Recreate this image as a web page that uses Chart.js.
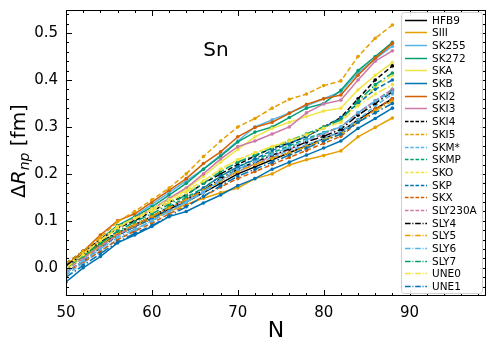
<!DOCTYPE html>
<html>
<head>
<meta charset="utf-8">
<script src="https://cdn.jsdelivr.net/npm/chart.js@4.4.0/dist/chart.umd.min.js"></script>
<style>
  html, body { margin: 0; padding: 0; background: #fff; }
  #wrap { width: 496px; height: 345px; }
</style>
</head>
<body>
<div id="wrap"><canvas id="snChart" width="496" height="345"></canvas></div>
<script>
// neutron number N
const neutrons = [50, 52, 54, 56, 58, 60, 62, 64, 66, 68, 70, 72, 74, 76, 78, 80, 82, 84, 86, 88];

// delta R_np (fm) per Skyrme force
const hfb9    = [0.005, 0.025, 0.05, 0.07, 0.088, 0.105, 0.125, 0.14, 0.16, 0.18, 0.20, 0.215, 0.23, 0.245, 0.26, 0.275, 0.29, 0.315, 0.338, 0.36];
const siii    = [0.0, 0.022, 0.045, 0.07, 0.088, 0.105, 0.12, 0.135, 0.148, 0.16, 0.17, 0.19, 0.20, 0.219, 0.23, 0.239, 0.249, 0.279, 0.299, 0.319];
const sk255   = [0.0, 0.03, 0.06, 0.09, 0.11, 0.135, 0.16, 0.185, 0.21, 0.24, 0.27, 0.30, 0.315, 0.33, 0.345, 0.36, 0.375, 0.415, 0.445, 0.472];
const sk272   = [0.0, 0.03, 0.06, 0.09, 0.108, 0.13, 0.155, 0.18, 0.21, 0.238, 0.268, 0.289, 0.30, 0.32, 0.34, 0.35, 0.378, 0.42, 0.45, 0.48];
const ska     = [-0.005, 0.025, 0.055, 0.085, 0.105, 0.125, 0.145, 0.168, 0.195, 0.225, 0.252, 0.279, 0.297, 0.31, 0.322, 0.334, 0.34, 0.379, 0.41, 0.437];
const skb     = [-0.03, 0.0, 0.024, 0.053, 0.07, 0.088, 0.109, 0.12, 0.138, 0.155, 0.175, 0.19, 0.21, 0.225, 0.24, 0.255, 0.27, 0.297, 0.318, 0.34];
const ski2    = [0.005, 0.035, 0.07, 0.10, 0.115, 0.14, 0.165, 0.19, 0.222, 0.247, 0.279, 0.299, 0.31, 0.329, 0.348, 0.36, 0.368, 0.41, 0.446, 0.478];
const ski3    = [0.0, 0.03, 0.06, 0.085, 0.105, 0.125, 0.148, 0.17, 0.20, 0.232, 0.258, 0.27, 0.285, 0.30, 0.33, 0.349, 0.357, 0.40, 0.44, 0.462];
const ski4    = [0.01, 0.035, 0.06, 0.085, 0.10, 0.12, 0.14, 0.155, 0.18, 0.20, 0.22, 0.238, 0.255, 0.265, 0.28, 0.30, 0.32, 0.36, 0.40, 0.43];
const ski5    = [0.01, 0.035, 0.065, 0.098, 0.12, 0.145, 0.17, 0.20, 0.237, 0.27, 0.30, 0.318, 0.34, 0.359, 0.37, 0.388, 0.398, 0.45, 0.489, 0.517];
const skmStar = [-0.015, 0.01, 0.035, 0.06, 0.08, 0.10, 0.12, 0.14, 0.16, 0.185, 0.205, 0.22, 0.235, 0.25, 0.262, 0.275, 0.29, 0.315, 0.345, 0.37];
const skmp    = [0.0, 0.025, 0.05, 0.075, 0.092, 0.11, 0.13, 0.15, 0.17, 0.195, 0.215, 0.23, 0.245, 0.26, 0.275, 0.288, 0.30, 0.33, 0.355, 0.38];
const sko     = [0.005, 0.03, 0.058, 0.085, 0.105, 0.125, 0.145, 0.165, 0.185, 0.21, 0.23, 0.245, 0.258, 0.272, 0.285, 0.30, 0.315, 0.35, 0.385, 0.41];
const skp     = [-0.01, 0.015, 0.042, 0.068, 0.088, 0.105, 0.125, 0.145, 0.17, 0.195, 0.215, 0.232, 0.25, 0.265, 0.28, 0.298, 0.32, 0.35, 0.38, 0.40];
const skx     = [-0.01, 0.013, 0.035, 0.06, 0.078, 0.095, 0.115, 0.132, 0.152, 0.172, 0.19, 0.205, 0.22, 0.235, 0.25, 0.265, 0.28, 0.31, 0.338, 0.36];
const sly230a = [-0.005, 0.02, 0.045, 0.07, 0.09, 0.11, 0.128, 0.145, 0.165, 0.188, 0.205, 0.222, 0.238, 0.252, 0.268, 0.285, 0.30, 0.33, 0.356, 0.38];
const sly4    = [0.005, 0.028, 0.055, 0.075, 0.092, 0.11, 0.128, 0.145, 0.165, 0.19, 0.21, 0.225, 0.24, 0.253, 0.268, 0.28, 0.295, 0.325, 0.35, 0.375];
const sly5    = [0.0, 0.025, 0.05, 0.075, 0.092, 0.11, 0.128, 0.145, 0.165, 0.185, 0.205, 0.22, 0.233, 0.245, 0.258, 0.272, 0.285, 0.31, 0.335, 0.355];
const sly6    = [-0.01, 0.015, 0.04, 0.065, 0.082, 0.10, 0.12, 0.14, 0.162, 0.188, 0.21, 0.226, 0.242, 0.256, 0.272, 0.287, 0.30, 0.33, 0.355, 0.375];
const sly7    = [0.0, 0.025, 0.052, 0.078, 0.098, 0.115, 0.135, 0.155, 0.18, 0.205, 0.225, 0.24, 0.255, 0.27, 0.285, 0.30, 0.315, 0.355, 0.39, 0.415];
const une0    = [0.0, 0.028, 0.058, 0.088, 0.105, 0.12, 0.14, 0.16, 0.185, 0.21, 0.23, 0.245, 0.258, 0.27, 0.283, 0.297, 0.31, 0.345, 0.37, 0.39];
const une1    = [-0.02, 0.005, 0.03, 0.055, 0.073, 0.09, 0.11, 0.13, 0.152, 0.175, 0.195, 0.21, 0.225, 0.24, 0.255, 0.27, 0.285, 0.31, 0.33, 0.35];

const forceNames = ['HFB9', 'SIII', 'SK255', 'SK272', 'SKA', 'SKB', 'SKI2', 'SKI3',
                    'SKI4', 'SKI5', 'SKM*', 'SKMP', 'SKO', 'SKP', 'SKX', 'SLY230A',
                    'SLY4', 'SLY5', 'SLY6', 'SLY7', 'UNE0', 'UNE1'];
const forceValues = [hfb9, siii, sk255, sk272, ska, skb, ski2, ski3,
                     ski4, ski5, skmStar, skmp, sko, skp, skx, sly230a,
                     sly4, sly5, sly6, sly7, une0, une1];

const xTickValues = [50, 60, 70, 80, 90];
const yTickValues = [0.0, 0.1, 0.2, 0.3, 0.4, 0.5];

const palette = ['#000000', '#E69F00', '#56B4E9', '#009E73', '#F0E442', '#0072B2', '#D55E00', '#CC79A7'];
const dashes = [[], [5, 2.5], [8, 2.5, 1.5, 2.5]];
const FONT = "'DejaVu Sans', sans-serif";

const datasets = forceNames.map((name, i) => {
    const color = palette[i % 8];
    return {
        label: name,
        data: neutrons.map((n, j) => ({ x: n, y: forceValues[i][j] })),
        borderColor: color,
        backgroundColor: color,
        pointBackgroundColor: color,
        pointBorderWidth: 0,
        pointRadius: 1.8,
        borderWidth: 1.5,
        borderDash: dashes[Math.floor(i / 8)],
        tension: 0,
        order: -i
    };
});

const decor = {
    id: 'decor',
    afterDraw(chart) {
        const ctx = chart.ctx;
        const a = chart.chartArea;
        const xs = chart.scales.x, ys = chart.scales.y;
        ctx.save();

        // frame
        ctx.strokeStyle = '#000';
        ctx.lineWidth = 1;
        ctx.strokeRect(a.left + 0.5, a.top + 0.5, a.right - a.left - 1, a.bottom - a.top - 1);

        // inward ticks on all sides
        ctx.beginPath();
        for (let v = 50; v <= xs.max; v += 2) {
            const px = Math.round(xs.getPixelForValue(v)) + 0.5;
            const len = v % 10 === 0 ? 6 : 3;
            ctx.moveTo(px, a.bottom); ctx.lineTo(px, a.bottom - len);
            ctx.moveTo(px, a.top); ctx.lineTo(px, a.top + len);
        }
        for (let k = -2; k <= 27; k++) {
            const v = k * 0.02;
            if (v < ys.min || v > ys.max) continue;
            const py = Math.round(ys.getPixelForValue(v)) + 0.5;
            const len = k % 5 === 0 ? 6 : 3;
            ctx.moveTo(a.left, py); ctx.lineTo(a.left + len, py);
            ctx.moveTo(a.right, py); ctx.lineTo(a.right - len, py);
        }
        ctx.stroke();

        // legend
        const lx = 401, ly = 12, lw = 81, lh = 281;
        ctx.fillStyle = 'rgba(255,255,255,0.9)';
        ctx.strokeStyle = '#d0d0d0';
        ctx.lineWidth = 1;
        ctx.beginPath();
        ctx.roundRect(lx + 0.5, ly + 0.5, lw, lh, 3);
        ctx.fill();
        ctx.stroke();
        ctx.font = '10.5px ' + FONT;
        ctx.textBaseline = 'middle';
        ctx.textAlign = 'left';
        chart.data.datasets.forEach((ds, i) => {
            const y = Math.round(19.7 + i * 12.68) + 0.5;
            ctx.strokeStyle = ds.borderColor;
            ctx.lineWidth = 1.5;
            ctx.setLineDash(ds.borderDash.map(d => d * 0.7));
            ctx.beginPath();
            ctx.moveTo(405, y); ctx.lineTo(427, y);
            ctx.stroke();
            ctx.setLineDash([]);
            ctx.fillStyle = '#000';
            ctx.fillText(ds.label, 432, y + 0.5);
        });

        // "Sn" annotation
        ctx.fillStyle = '#000';
        ctx.font = '20px ' + FONT;
        ctx.textAlign = 'center';
        ctx.textBaseline = 'middle';
        ctx.fillText('Sn', 216, 51);

        // x title
        ctx.font = '22px ' + FONT;
        ctx.fillText('N', (a.left + a.right) / 2, 331);

        // y title: ΔR_np [fm]
        const parts = [
            { t: 'Δ', f: '20px ' + FONT, dy: 0 },
            { t: 'R', f: 'italic 20px ' + FONT, dy: 0 },
            { t: 'np', f: 'italic 14px ' + FONT, dy: 5 },
            { t: ' [fm]', f: '20px ' + FONT, dy: 0 }
        ];
        let total = 0;
        parts.forEach(p => { ctx.font = p.f; p.w = ctx.measureText(p.t).width; total += p.w; });
        ctx.translate(20, 151);
        ctx.rotate(-Math.PI / 2);
        ctx.textAlign = 'left';
        ctx.textBaseline = 'middle';
        let cx = -total / 2;
        parts.forEach(p => {
            ctx.font = p.f;
            ctx.fillText(p.t, cx, p.dy);
            cx += p.w;
        });
        ctx.restore();
    }
};

new Chart(document.getElementById('snChart').getContext('2d'), {
    type: 'line',
    data: { datasets: datasets },
    options: {
        responsive: false,
        animation: false,
        layout: { padding: { top: 10, right: 10, left: 0, bottom: 0 } },
        plugins: { legend: { display: false }, tooltip: { enabled: false } },
        scales: {
            x: {
                type: 'linear',
                min: 50,
                max: 98.9,
                grid: { display: false, drawTicks: false },
                border: { display: false },
                afterBuildTicks: s => { s.ticks = xTickValues.map(v => ({ value: v })); },
                afterFit: s => { s.height = 49; s.paddingLeft = 0; s.paddingRight = 0; },
                ticks: {
                    color: '#000',
                    padding: 8,
                    maxRotation: 0,
                    font: { family: FONT, size: 15 },
                    callback: v => String(v)
                }
            },
            y: {
                type: 'linear',
                min: -0.06,
                max: 0.549,
                grid: { display: false, drawTicks: false },
                border: { display: false },
                afterBuildTicks: s => { s.ticks = yTickValues.map(v => ({ value: v })); },
                afterFit: s => { s.width = 66; s.paddingTop = 0; s.paddingBottom = 0; },
                ticks: {
                    color: '#000',
                    padding: 8,
                    font: { family: FONT, size: 15 },
                    callback: v => Number(v).toFixed(1)
                }
            }
        }
    },
    plugins: [decor]
});
</script>
</body>
</html>
